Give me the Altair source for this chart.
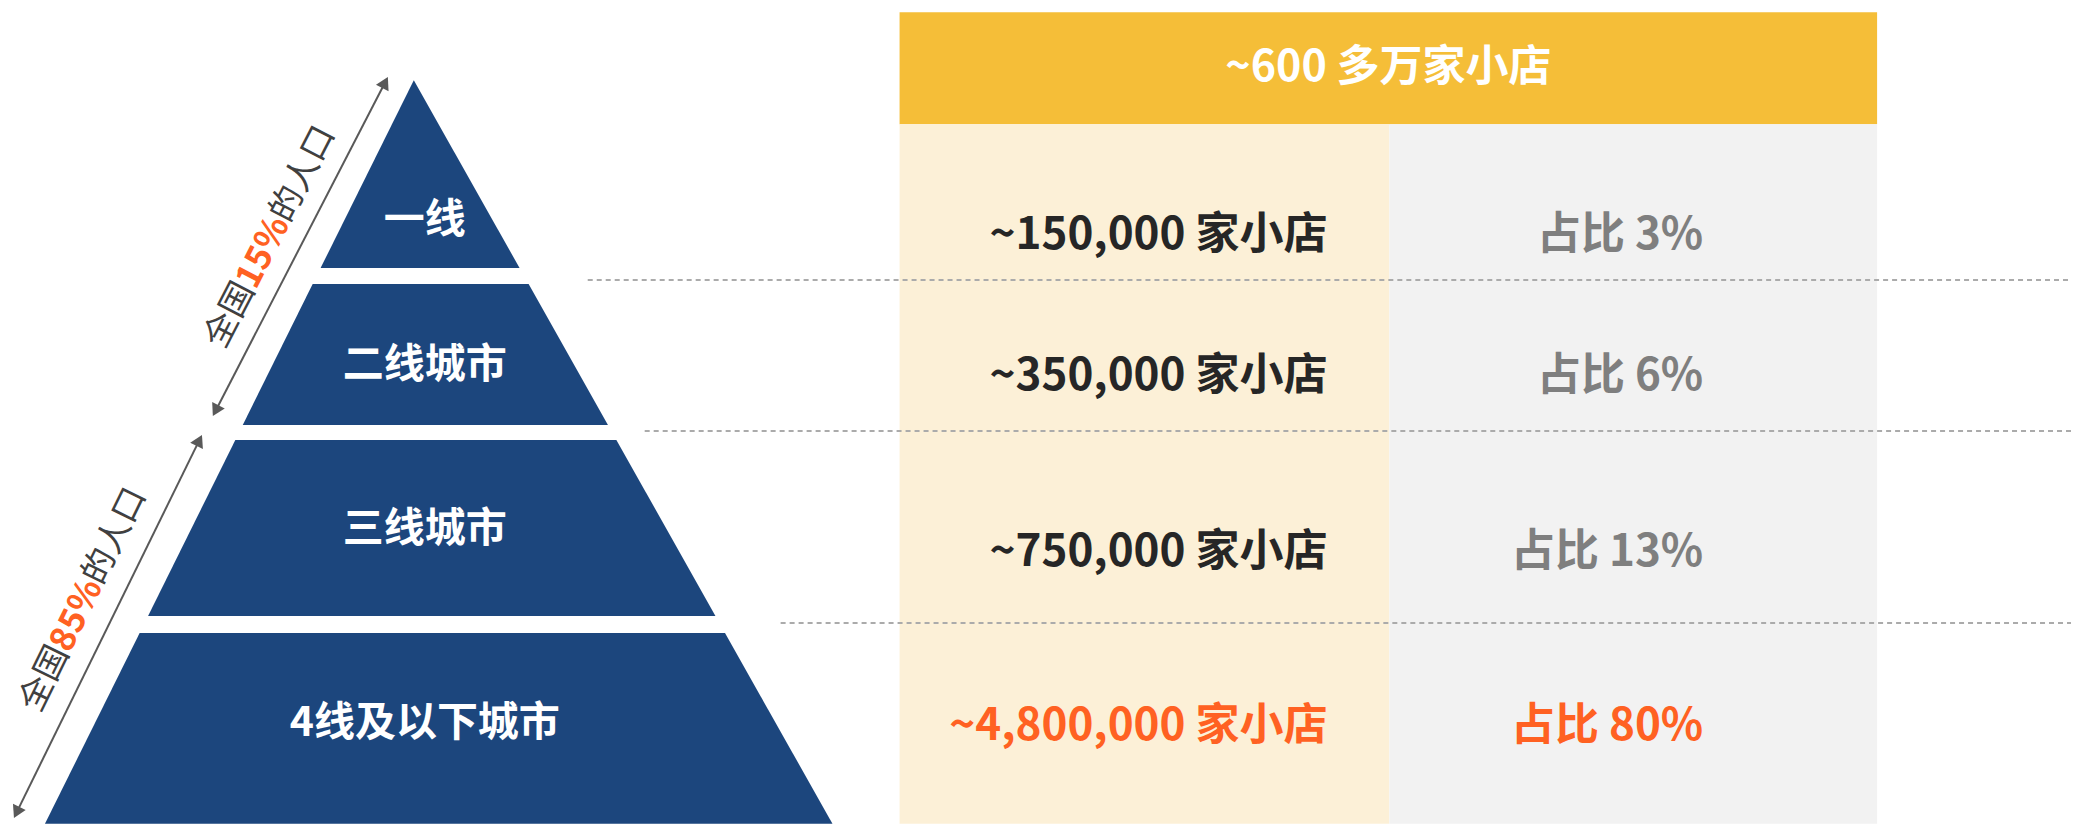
import math
import altair as alt
import pandas as pd

# ---------------- data ----------------
tiers = ["一线", "二线城市", "三线城市", "4线及以下城市"]
tier_top = [80, 284, 440, 633]
tier_bottom = [268, 425, 616, 824]
tier_label_y = [221, 366, 530, 724]
apex = (414, 80)
left_slope = 0.496
right_slope = 0.563

header_text = "~600 多万家小店"
store_labels = ["~150,000 家小店", "~350,000 家小店", "~750,000 家小店", "~4,800,000 家小店"]
share_labels = ["占比 3%", "占比 6%", "占比 13%", "占比 80%"]
row_y = [236, 377, 553, 727]
highlight = [False, False, False, True]

divider_y = [280, 431, 623]
divider_x0 = [588, 645, 781]

# population brackets: (top tip, bottom tip, text center, segments)
bracket_top = [(388, 77), (202, 435)]
bracket_bottom = [(213, 416), (14, 818)]
bracket_center = [(271, 237), (84, 600)]
bracket_segments = [["全国", "15%", "的人口"], ["全国", "85%", "的人口"]]
segment_width = [68, 74, 102]

# ---------------- styles ----------------
NAVY = "#1C467D"
GOLD = "#F5BE38"
CREAM = "#FCF0D7"
LIGHT = "#F2F2F2"
ORANGE = "#FF6122"
DARK = "#262626"
GREY = "#7F7F7F"
ARROW = "#595959"
FONT = "Noto Sans CJK SC"

W, H = 2064, 816
XS = alt.Scale(domain=[8, 8 + W])
YS = alt.Scale(domain=[8, 8 + H], reverse=True)


def X(f):
    return alt.X(f, type="quantitative", scale=XS, axis=None)


def Y(f):
    return alt.Y(f, type="quantitative", scale=YS, axis=None)


# background blocks
blocks = pd.DataFrame({
    "x0": [900, 900, 1390], "x1": [1878, 1390, 1878],
    "y0": [12, 124, 124], "y1": [124, 824, 824],
    "fill": [GOLD, CREAM, LIGHT],
})
bg = alt.Chart(blocks).mark_rect().encode(
    x=X("x0"), x2="x1", y=Y("y0"), y2="y1",
    color=alt.Color("fill:N", scale=None),
)

# dashed dividers
div = pd.DataFrame({"y": divider_y, "x0": divider_x0, "x1": [8 + W] * 3})
rules = alt.Chart(div).mark_rule(color="#ABABAB", strokeWidth=2, strokeDash=[5, 4]).encode(
    x=X("x0"), x2="x1", y=Y("y")
)

# pyramid tiers
rows = []
for t, top, bot in zip(tiers, tier_top, tier_bottom):
    for yy in (top, bot):
        rows.append({
            "tier": t, "y": yy,
            "left": apex[0] - (yy - apex[1]) * left_slope,
            "right": apex[0] + (yy - apex[1]) * right_slope,
        })
pyr = pd.DataFrame(rows)
pyramid = alt.Chart(pyr).mark_area(orient="horizontal", color=NAVY).encode(
    y=Y("y"), x=alt.X("left:Q", scale=XS, axis=None, stack=None), x2="right",
    detail="tier:N",
)

tier_df = pd.DataFrame({"label": tiers, "y": tier_label_y, "x": [425] * 4})
tier_text = alt.Chart(tier_df).mark_text(
    font=FONT, fontSize=41, fontWeight="bold", color="white", align="center", baseline="middle"
).encode(x=X("x"), y=Y("y"), text="label:N")

# header text
head_df = pd.DataFrame({"label": [header_text], "x": [1389], "y": [68]})
head_text = alt.Chart(head_df).mark_text(
    font=FONT, fontSize=43, fontWeight="bold", color="white", align="center", baseline="middle"
).encode(x=X("x"), y=Y("y"), text="label:N")

# table texts
tab = pd.DataFrame({
    "store": store_labels, "share": share_labels, "y": row_y,
    "c1": [ORANGE if h else DARK for h in highlight],
    "c2": [ORANGE if h else GREY for h in highlight],
    "x1": [1328] * 4, "x2": [1704] * 4,
})
store_text = alt.Chart(tab).mark_text(
    font=FONT, fontSize=44, fontWeight="bold", align="right", baseline="middle"
).encode(x=X("x1"), y=Y("y"), text="store:N", color=alt.Color("c1:N", scale=None))
share_text = alt.Chart(tab).mark_text(
    font=FONT, fontSize=44, fontWeight="bold", align="right", baseline="middle"
).encode(x=X("x2"), y=Y("y"), text="share:N", color=alt.Color("c2:N", scale=None))

# brackets
line_rows, head_rows, seg_rows = [], [], []
tip_offset = 6
for (tx, ty), (bx, by), (cx, cy), segs in zip(bracket_top, bracket_bottom, bracket_center, bracket_segments):
    dx, dy = bx - tx, by - ty
    L = math.hypot(dx, dy)
    ux, uy = dx / L, dy / L  # pointing down
    tilt = math.degrees(math.atan2(-dx, dy))  # clockwise tilt from vertical
    top_c = (tx + ux * tip_offset, ty + uy * tip_offset)
    bot_c = (bx - ux * tip_offset, by - uy * tip_offset)
    line_rows.append({"x0": top_c[0], "y0": top_c[1], "x1": bot_c[0], "y1": bot_c[1]})
    head_rows.append({"x": top_c[0], "y": top_c[1], "ang": tilt % 360})
    head_rows.append({"x": bot_c[0], "y": bot_c[1], "ang": (tilt + 180) % 360})
    # text reading upward along the line
    rx, ry = -ux, -uy
    text_angle = math.degrees(math.atan2(ry, rx)) % 360
    total = sum(segment_width)
    start = -total / 2
    for i, (s, w) in enumerate(zip(segs, segment_width)):
        off = start + sum(segment_width[:i]) + w / 2
        seg_rows.append({
            "text": s, "x": cx + rx * off, "y": cy + ry * off, "ang": text_angle,
            "col": ORANGE if i == 1 else "#404040", "wt": "bold" if i == 1 else "normal",
        })

lines = alt.Chart(pd.DataFrame(line_rows)).mark_rule(color=ARROW, strokeWidth=2).encode(
    x=X("x0"), y=Y("y0"), x2="x1", y2="y1"
)
heads = alt.Chart(pd.DataFrame(head_rows)).mark_point(
    shape="triangle-up", filled=True, color=ARROW, opacity=1, size=200
).encode(x=X("x"), y=Y("y"), angle=alt.Angle("ang:Q", scale=None))

seg_df = pd.DataFrame(seg_rows)
seg_normal = alt.Chart(seg_df[seg_df.wt == "normal"]).mark_text(
    font=FONT, fontSize=34, align="center", baseline="middle"
).encode(x=X("x"), y=Y("y"), text="text:N", angle=alt.Angle("ang:Q", scale=None),
         color=alt.Color("col:N", scale=None))
seg_bold = alt.Chart(seg_df[seg_df.wt == "bold"]).mark_text(
    font=FONT, fontSize=35, fontWeight="bold", align="center", baseline="middle"
).encode(x=X("x"), y=Y("y"), text="text:N", angle=alt.Angle("ang:Q", scale=None),
         color=alt.Color("col:N", scale=None))

chart = alt.layer(
    bg, pyramid, rules, tier_text, head_text, store_text, share_text,
    lines, heads, seg_normal, seg_bold,
).properties(width=W, height=H, padding=0).configure_view(stroke=None)

chart.save("out.html", embed_options={"renderer": "svg", "actions": False})
